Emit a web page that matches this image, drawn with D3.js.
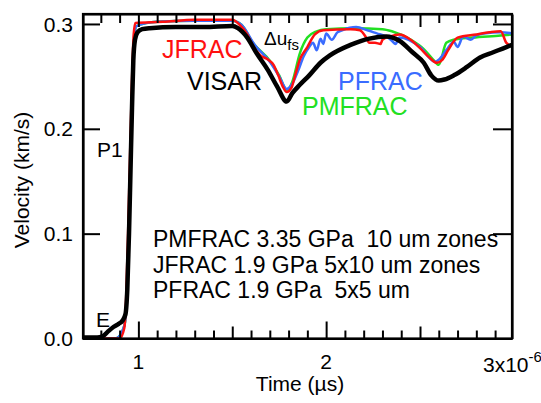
<!DOCTYPE html>
<html>
<head>
<meta charset="utf-8">
<script src="https://cdn.jsdelivr.net/npm/d3@7"></script>
<style>
  body { margin: 0; background: #fff; }
  svg text { font-family: "Liberation Sans", Arial, sans-serif; white-space: pre; }
</style>
</head>
<body>
<div id="chart"></div>
<script>
// time in microseconds, velocity in km/s
var visarT = [0.705, 0.78, 0.809, 0.84, 0.867, 0.895, 0.915, 0.931, 0.941, 0.95, 0.958, 0.966, 0.973, 0.982, 0.995, 1.02, 1.06, 1.2, 1.35, 1.5, 1.53, 1.58, 1.63, 1.69, 1.74, 1.79, 1.82, 1.86, 1.91, 1.97, 2.02, 2.13, 2.23, 2.32, 2.39, 2.46, 2.52, 2.56, 2.6, 2.63, 2.68, 2.75, 2.82, 2.89, 2.96, 2.99];
var visarV = [0.001, 0.001, 0.002, 0.007, 0.011, 0.014, 0.017, 0.023, 0.047, 0.1, 0.16, 0.22, 0.265, 0.285, 0.292, 0.295, 0.296, 0.297, 0.297, 0.298, 0.296, 0.287, 0.272, 0.256, 0.24, 0.226, 0.234, 0.242, 0.251, 0.263, 0.27, 0.28, 0.286, 0.288, 0.284, 0.273, 0.263, 0.251, 0.246, 0.247, 0.251, 0.259, 0.268, 0.273, 0.278, 0.28];

var jfracT = [0.705, 0.85, 0.9, 0.925, 0.935, 0.945, 0.955, 0.965, 0.975, 0.984, 1.13, 1.3, 1.5, 1.54, 1.58, 1.61, 1.65, 1.69, 1.72, 1.745, 1.77, 1.79, 1.815, 1.835, 1.86, 1.9, 1.94, 1.985, 2.13, 2.18, 2.21, 2.23, 2.26, 2.29, 2.3, 2.34, 2.39, 2.45, 2.5, 2.55, 2.59, 2.62, 2.65, 2.7, 2.8, 2.87, 2.93, 2.96, 2.99];
var jfracV = [0, 0, 0, 0.01, 0.04, 0.1, 0.17, 0.24, 0.29, 0.301, 0.302, 0.304, 0.304, 0.299, 0.29, 0.279, 0.27, 0.266, 0.261, 0.251, 0.24, 0.235, 0.239, 0.251, 0.266, 0.278, 0.29, 0.294, 0.295, 0.294, 0.288, 0.282, 0.282, 0.281, 0.285, 0.288, 0.29, 0.285, 0.277, 0.268, 0.263, 0.266, 0.275, 0.287, 0.29, 0.292, 0.293, 0.282, 0.279];

var pmfracT = [0.705, 0.88, 0.925, 0.938, 0.948, 0.958, 0.967, 0.976, 0.99, 1.1, 1.3, 1.5, 1.55, 1.61, 1.7, 1.75, 1.79, 1.82, 1.86, 1.9, 1.95, 2.0, 2.15, 2.3, 2.35, 2.45, 2.52, 2.57, 2.6, 2.64, 2.68, 2.78, 2.93, 2.99];
var pmfracV = [0, 0, 0.012, 0.04, 0.1, 0.17, 0.235, 0.28, 0.298, 0.302, 0.303, 0.303, 0.299, 0.282, 0.265, 0.251, 0.237, 0.245, 0.272, 0.287, 0.293, 0.295, 0.296, 0.295, 0.293, 0.285, 0.276, 0.266, 0.261, 0.282, 0.285, 0.287, 0.289, 0.29];

var pfracT = [0.705, 0.88, 0.925, 0.938, 0.948, 0.958, 0.967, 0.976, 0.99, 1.1, 1.3, 1.5, 1.55, 1.62, 1.7, 1.75, 1.79, 1.82, 1.85, 1.88, 1.91, 1.93, 1.95, 1.97, 1.985, 2.0, 2.03, 2.06, 2.085, 2.16, 2.22, 2.27, 2.32, 2.35, 2.37, 2.39, 2.5, 2.58, 2.6, 2.64, 2.68, 2.7, 2.73, 2.77, 2.8, 2.84, 2.93, 2.99];
var pfracV = [0, 0, 0.012, 0.04, 0.1, 0.17, 0.235, 0.28, 0.298, 0.302, 0.303, 0.303, 0.299, 0.28, 0.264, 0.25, 0.238, 0.243, 0.255, 0.269, 0.278, 0.282, 0.275, 0.286, 0.281, 0.291, 0.285, 0.292, 0.294, 0.297, 0.294, 0.291, 0.288, 0.284, 0.281, 0.287, 0.278, 0.264, 0.266, 0.275, 0.283, 0.278, 0.288, 0.285, 0.289, 0.291, 0.292, 0.291];

var xTicks = [1, 2];
var xTickLabels = ["1", "2"];
var yTicks = [0, 0.1, 0.2, 0.3];
var yTickLabels = ["0.0", "0.1", "0.2", "0.3"];
var notes = ["PMFRAC 3.35 GPa  10 um zones", "JFRAC 1.9 GPa 5x10 um zones", "PFRAC 1.9 GPa  5x5 um"];

var width = 541, height = 403;
var mL = 83, mR = 512, mT = 14, mB = 338.5;

var svg = d3.select("#chart").append("svg")
  .attr("width", width)
  .attr("height", height);

var x = d3.scaleLinear().domain([0.705, 2.99]).range([mL, mR]);
var y = d3.scaleLinear().domain([0, 0.3095]).range([mB, mT]);

// minor ticks every 0.1 us
var minor = d3.range(8, 30).map(function (i) { return i / 10; });
function tickLen(d) {
  var r = Math.round(d * 10);
  if (r % 10 == 0) return 17;
  if (r % 5 == 0) return 12;
  return 8;
}

var line = d3.line()
  .x(function (d) { return x(d[0]); })
  .y(function (d) { return y(d[1]); })
  .curve(d3.curveMonotoneX);

var plot = svg.append("g");
function addSeries(ts, vs, color, w) {
  plot.append("path")
    .datum(d3.zip(ts, vs))
    .attr("fill", "none")
    .attr("stroke", color)
    .attr("stroke-width", w)
    .attr("stroke-linejoin", "round")
    .attr("d", line);
}
addSeries(pmfracT, pmfracV, "#22e022", 2.5);
addSeries(pfracT, pfracV, "#3a6cff", 2.5);
addSeries(jfracT, jfracV, "#ff1010", 2.5);
addSeries(visarT, visarV, "#000", 4.5);

// axes: bottom and top with inward ticks
var axisBottom = svg.append("g")
  .attr("transform", "translate(0," + mB + ")")
  .call(d3.axisBottom(x).tickValues(minor).tickFormat("").tickSizeOuter(0));
axisBottom.selectAll(".tick line").attr("y2", function (d) { return -tickLen(d); });

var axisTop = svg.append("g")
  .attr("transform", "translate(0," + mT + ")")
  .call(d3.axisTop(x).tickValues(minor).tickFormat("").tickSizeOuter(0));
axisTop.selectAll(".tick line").attr("y2", function (d) { return tickLen(d) > 8 ? 13 : 9; });

svg.append("g")
  .attr("transform", "translate(" + mL + ",0)")
  .call(d3.axisLeft(y).tickValues(yTicks).tickFormat("").tickSize(-17).tickSizeOuter(0));

svg.append("g")
  .attr("transform", "translate(" + mR + ",0)")
  .call(d3.axisRight(y).tickValues(yTicks).tickFormat("").tickSize(-19).tickSizeOuter(0));

svg.selectAll(".domain").attr("stroke", "#000").attr("stroke-width", 2.2);
svg.selectAll(".tick line").attr("stroke", "#000").attr("stroke-width", 2);
// close the frame
svg.append("rect")
  .attr("x", mL).attr("y", mT)
  .attr("width", mR - mL).attr("height", mB - mT)
  .attr("fill", "none").attr("stroke", "#000").attr("stroke-width", 2.2);

// tick labels
svg.selectAll("text.ylab").data(yTicks).enter().append("text")
  .attr("class", "ylab")
  .attr("x", 73)
  .attr("y", function (d) { return y(d); })
  .attr("dy", "0.36em")
  .attr("text-anchor", "end")
  .style("font-size", "21px")
  .text(function (d, i) { return yTickLabels[i]; });

svg.selectAll("text.xlab").data(xTicks).enter().append("text")
  .attr("class", "xlab")
  .attr("x", function (d) { return x(d); })
  .attr("y", 369)
  .attr("text-anchor", "middle")
  .style("font-size", "21px")
  .text(function (d, i) { return xTickLabels[i]; });

var expo = svg.append("text")
  .attr("x", 483).attr("y", 372)
  .style("font-size", "21px");
expo.append("tspan").text("3x10");
expo.append("tspan").attr("dy", -10).style("font-size", "15px").text("-6");

svg.append("text")
  .attr("x", 300).attr("y", 391)
  .attr("text-anchor", "middle")
  .style("font-size", "21px")
  .text("Time (\u00b5s)");

svg.append("text")
  .attr("transform", "translate(29,180) rotate(-90)")
  .attr("text-anchor", "middle")
  .style("font-size", "21px")
  .text("Velocity (km/s)");

// annotations
function label(t, xx, yy, color, size) {
  return svg.append("text")
    .attr("x", xx).attr("y", yy)
    .attr("fill", color)
    .style("font-size", size + "px")
    .text(t);
}
label("JFRAC", 162, 58, "#ff1010", 25);
label("VISAR", 187, 90, "#000", 25);
label("PFRAC", 338, 90, "#3a6cff", 25);
label("PMFRAC", 302, 115, "#22e022", 25);
label("P1", 97, 157, "#000", 21);
label("E", 96, 327, "#000", 21);

var du = svg.append("text").attr("x", 264).attr("y", 45).style("font-size", "19px");
du.append("tspan").text("\u0394u");
du.append("tspan").attr("dy", 5).style("font-size", "15px").text("fs");

svg.selectAll("text.note").data(notes).enter().append("text")
  .attr("class", "note")
  .attr("x", 153)
  .attr("y", function (d, i) { return 247 + i * 25.5; })
  .style("font-size", "23px")
  .text(function (d) { return d; });
</script>
</body>
</html>
